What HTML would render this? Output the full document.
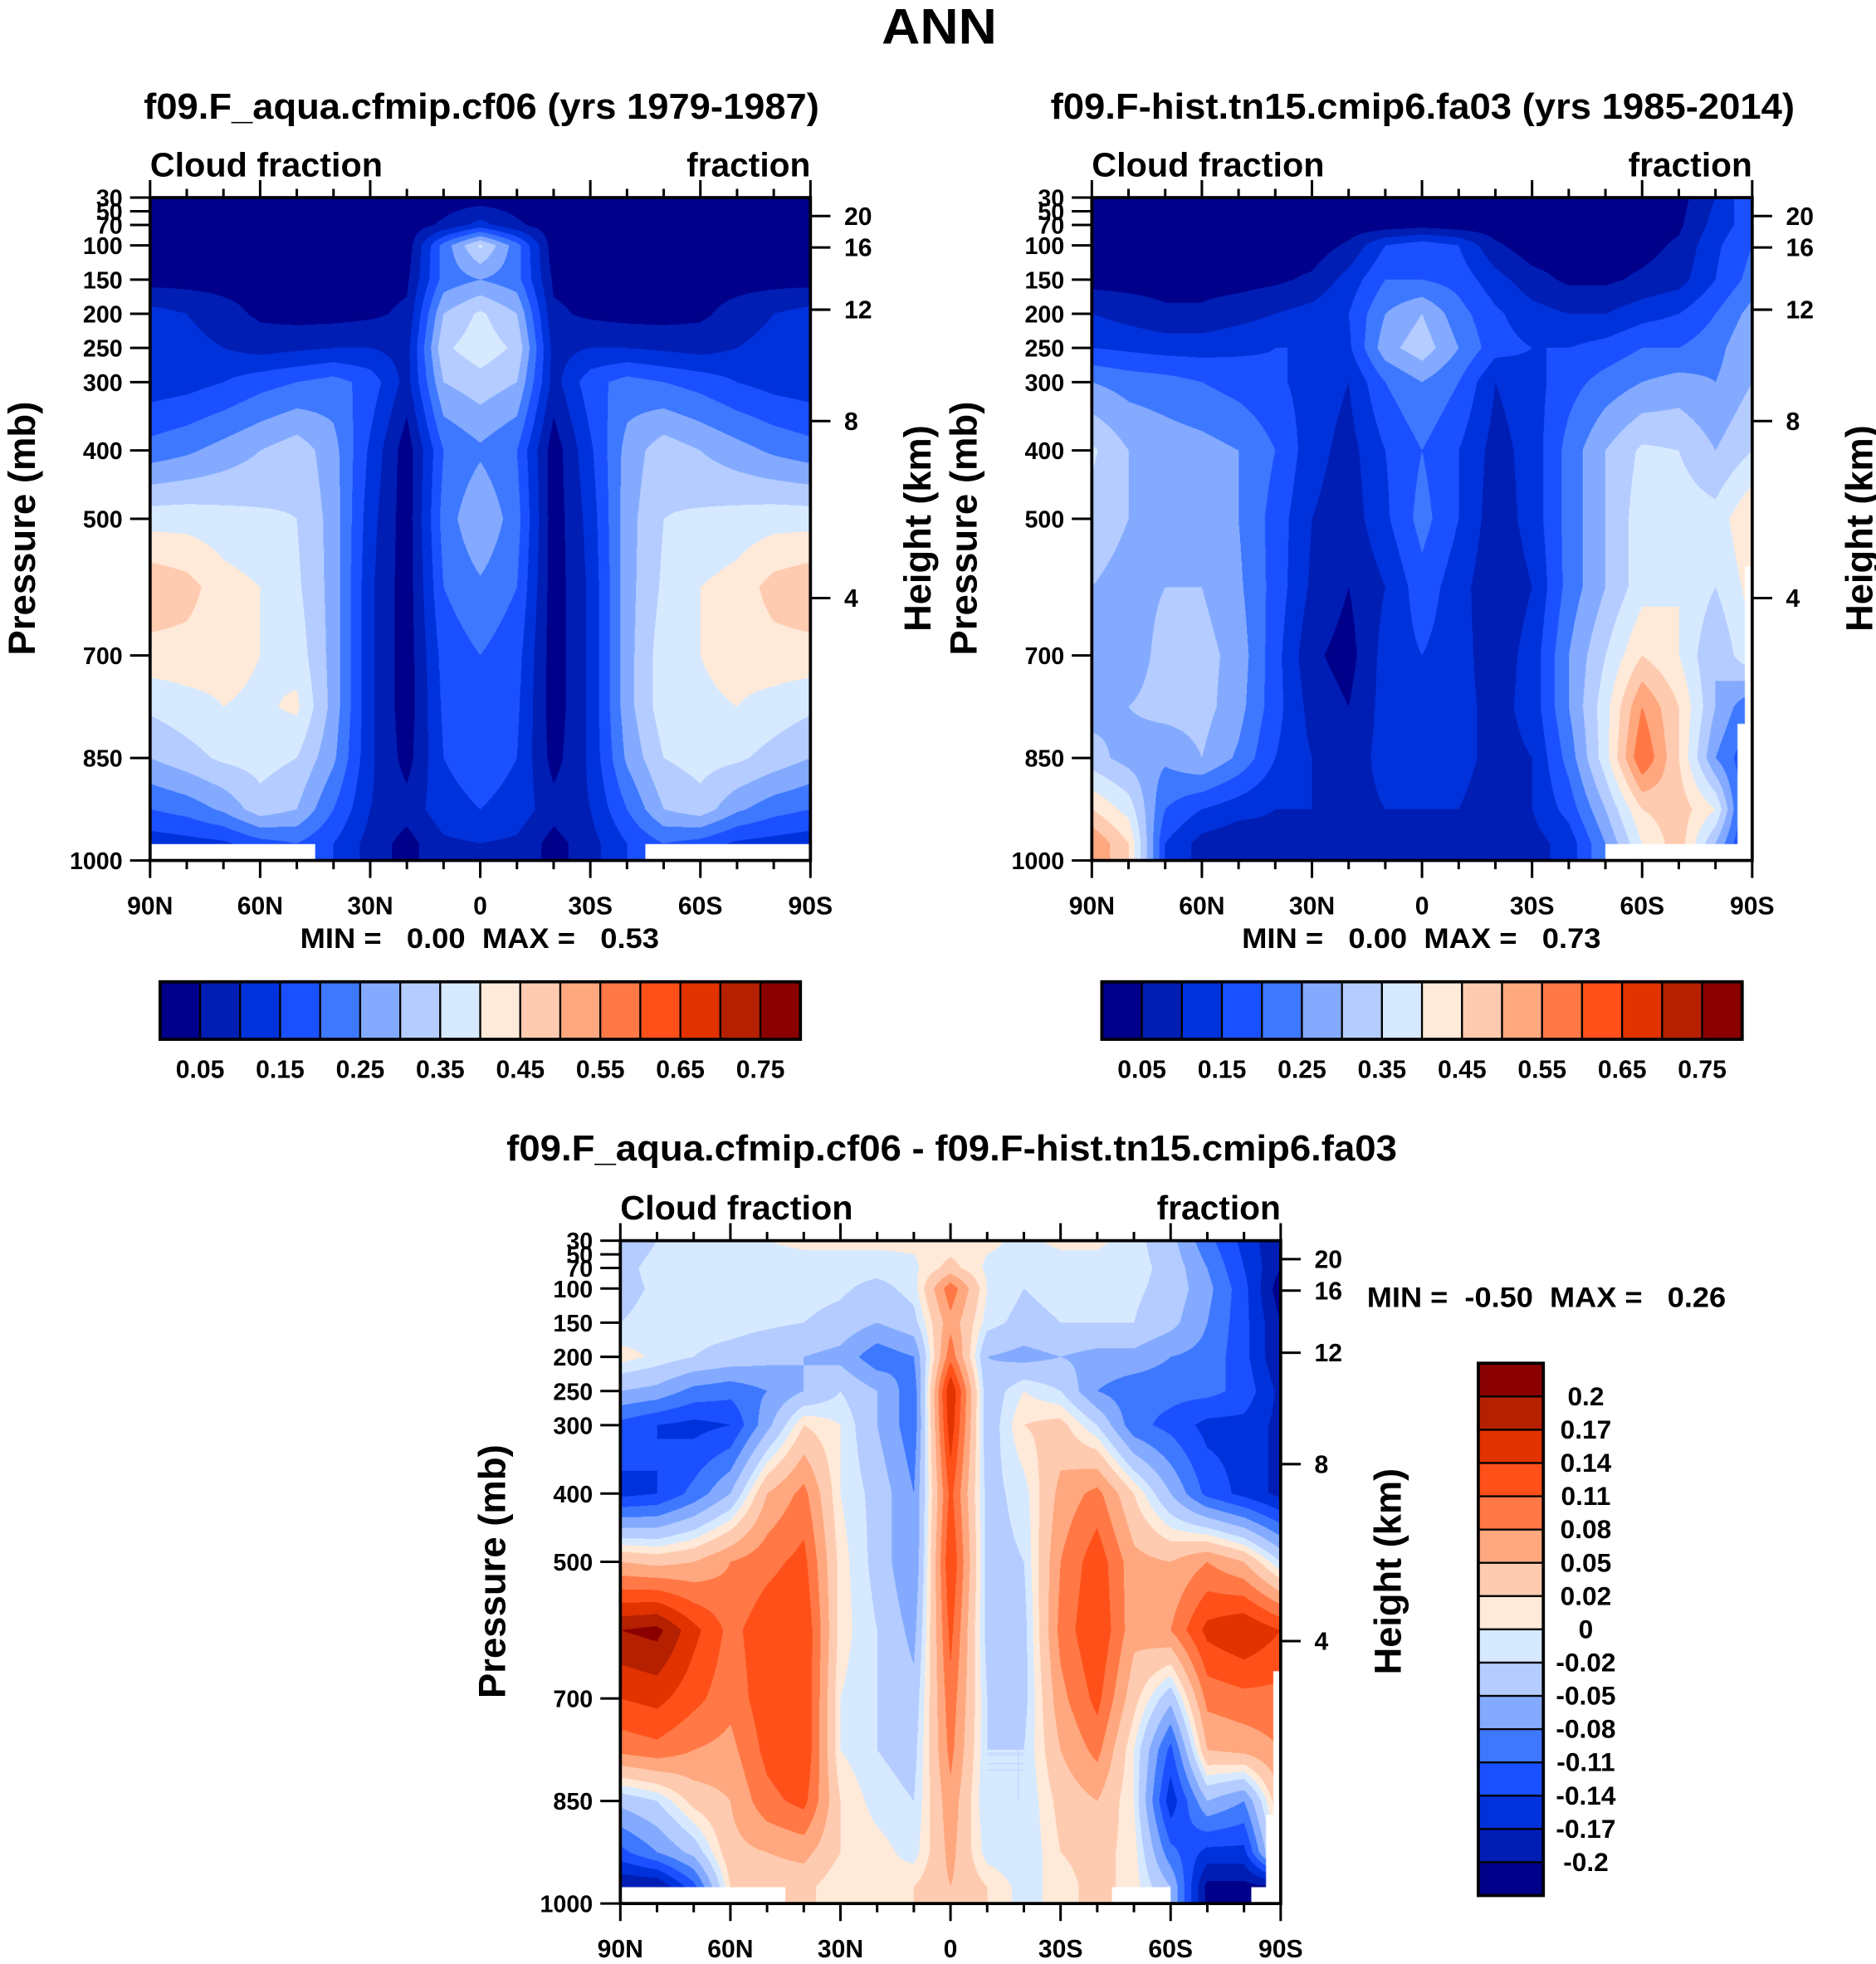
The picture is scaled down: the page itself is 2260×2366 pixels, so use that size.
<!DOCTYPE html>
<html><head><meta charset="utf-8">
<style>
html,body{margin:0;padding:0;background:#fff;}
#page{position:absolute;left:0;top:0;width:1500px;height:1570px;transform:scale(1.506667);transform-origin:0 0;font-family:"Liberation Sans",Arial,sans-serif;}
canvas{position:absolute;}
svg{position:absolute;left:0;top:0;}
text{font-family:"Liberation Sans",Arial,sans-serif;font-weight:bold;fill:#000;}
</style></head>
<body>
<div id="page">
<canvas id="c1" style="left:120px;top:158px;width:528px;height:530px" width="1056" height="1060"></canvas>
<canvas id="c2" style="left:873px;top:158px;width:528px;height:530px" width="1056" height="1060"></canvas>
<canvas id="c3" style="left:496px;top:992px;width:528px;height:530px" width="1056" height="1060"></canvas>
<svg id="ov" width="1500" height="1570" viewBox="0 0 1500 1570">
<text x="705" y="35" font-size="40" textLength="92" lengthAdjust="spacingAndGlyphs">ANN</text>
<text x="115" y="95" font-size="29" textLength="540" lengthAdjust="spacingAndGlyphs">f09.F_aqua.cfmip.cf06 (yrs 1979-1987)</text>
<text x="840" y="95" font-size="29" textLength="595" lengthAdjust="spacingAndGlyphs">f09.F-hist.tn15.cmip6.fa03 (yrs 1985-2014)</text>
<text x="405" y="928" font-size="29" textLength="712" lengthAdjust="spacingAndGlyphs">f09.F_aqua.cfmip.cf06 - f09.F-hist.tn15.cmip6.fa03</text>
<text x="240" y="758" font-size="23" textLength="287" lengthAdjust="spacingAndGlyphs" xml:space="preserve">MIN =   0.00  MAX =   0.53</text>
<text x="993" y="758" font-size="23" textLength="287" lengthAdjust="spacingAndGlyphs" xml:space="preserve">MIN =   0.00  MAX =   0.73</text>
<text x="1093" y="1045" font-size="23" textLength="287" lengthAdjust="spacingAndGlyphs" xml:space="preserve">MIN =  -0.50  MAX =   0.26</text>
</svg>
</div>
<script>
const lats=[90,80,70,60,50,40,30,20,10,0,-10,-20,-30,-40,-50,-60,-70,-80,-90];
const pLev=[30,70,100,150,200,250,300,400,500,600,700,775,850,925,975];
const colors=["#00008a","#001eb4","#0032dc","#1a50ff","#3e78ff","#83aaff","#b4ccff","#d6e9ff","#ffead9","#ffcbb0","#ffa77e","#ff7845","#ff5019","#e13200","#b52000","#8a0000"];
const levels1=[0.05,0.1,0.15,0.2,0.25,0.3,0.35,0.4,0.45,0.5,0.55,0.6,0.65,0.7,0.75];
const levelLabels1=["0.05","0.15","0.25","0.35","0.45","0.55","0.65","0.75"];
const levels3=[-0.2,-0.17,-0.14,-0.11,-0.08,-0.05,-0.02,0,0.02,0.05,0.08,0.11,0.14,0.17,0.2];
const levelLabels3=["-0.2","-0.17","-0.14","-0.11","-0.08","-0.05","-0.02","0","0.02","0.05","0.08","0.11","0.14","0.17","0.2"];
const pTicks=[30,50,70,100,150,200,250,300,400,500,700,850,1000];
const hTicks=[20,16,12,8,4];
const hTickP=[57,103,194,357,616];
const latTicks=[90,60,30,0,-30,-60,-90];
const latLabels=["90N","60N","30N","0","30S","60S","90S"];

const field1=[
[.02,.02,.02,.02,.02,.02,.02,.02,.02,.02,.02,.02,.02,.02,.02,.02,.02,.02,.02],
[.02,.02,.02,.02,.02,.02,.02,.02,.06,.12,.06,.02,.02,.02,.02,.02,.02,.02,.02],
[.02,.02,.02,.02,.02,.02,.02,.02,.22,.36,.22,.02,.02,.02,.02,.02,.02,.02,.02],
[.03,.03,.03,.03,.03,.03,.03,.04,.22,.25,.22,.04,.03,.03,.03,.03,.03,.03,.03],
[.12,.1,.07,.04,.03,.03,.04,.06,.3,.36,.3,.06,.04,.03,.03,.04,.07,.1,.12],
[.15,.12,.1,.08,.09,.1,.1,.08,.34,.38,.34,.08,.1,.1,.09,.08,.1,.12,.15],
[.12,.13,.15,.18,.2,.22,.18,.08,.3,.33,.3,.08,.18,.22,.2,.18,.15,.13,.12],
[.22,.24,.27,.3,.33,.27,.14,.02,.2,.24,.2,.02,.14,.27,.33,.3,.27,.24,.22],
[.38,.38,.37,.36,.35,.28,.12,.02,.22,.3,.22,.02,.12,.28,.35,.36,.37,.38,.38],
[.49,.47,.42,.4,.36,.28,.11,.02,.2,.24,.2,.02,.11,.28,.36,.4,.42,.47,.49],
[.43,.43,.42,.4,.38,.28,.11,.02,.17,.2,.17,.02,.11,.28,.38,.4,.42,.43,.43],
[.36,.38,.4,.39,.41,.28,.11,.02,.16,.19,.16,.02,.11,.28,.38,.39,.4,.38,.36],
[.3,.33,.36,.37,.35,.26,.11,.03,.15,.18,.15,.03,.11,.26,.35,.37,.36,.33,.3],
[.2,.22,.26,.33,.3,.2,.1,.07,.13,.15,.13,.07,.1,.2,.3,.33,.26,.22,.2],
[.12,.13,.14,.18,.2,.15,.08,.03,.09,.1,.09,.03,.08,.15,.2,.18,.14,.13,.12]];

const field2=[
[.02,.02,.02,.02,.02,.02,.02,.02,.02,.02,.02,.02,.02,.02,.02,.02,.03,.1,.2],
[.02,.02,.02,.02,.02,.02,.02,.02,.02,.03,.02,.02,.02,.02,.02,.02,.04,.12,.18],
[.02,.02,.02,.02,.02,.02,.02,.06,.15,.18,.15,.06,.02,.02,.02,.03,.06,.14,.2],
[.03,.03,.03,.03,.03,.04,.06,.12,.2,.2,.18,.12,.07,.04,.04,.06,.08,.15,.22],
[.1,.08,.06,.06,.08,.1,.12,.15,.25,.3,.22,.16,.12,.1,.1,.13,.15,.2,.27],
[.15,.14,.13,.13,.14,.15,.15,.14,.28,.33,.25,.17,.15,.15,.17,.2,.2,.23,.3],
[.25,.23,.22,.2,.18,.16,.13,.1,.2,.25,.2,.1,.13,.18,.22,.25,.27,.25,.3],
[.36,.3,.28,.27,.25,.2,.12,.08,.15,.2,.15,.08,.12,.22,.3,.36,.35,.3,.35],
[.33,.3,.3,.28,.25,.18,.1,.07,.14,.22,.15,.07,.12,.22,.3,.38,.38,.37,.45],
[.3,.28,.3,.3,.26,.18,.09,.05,.1,.18,.12,.06,.1,.22,.3,.38,.4,.35,.42],
[.25,.27,.32,.32,.28,.17,.06,.03,.12,.15,.12,.07,.12,.25,.35,.45,.4,.3,.4],
[.28,.3,.32,.32,.27,.17,.08,.05,.12,.15,.12,.08,.12,.25,.38,.55,.45,.3,.2],
[.32,.28,.26,.3,.24,.15,.1,.07,.12,.13,.12,.08,.1,.22,.38,.6,.45,.25,.15],
[.45,.38,.2,.15,.12,.1,.1,.08,.1,.1,.1,.07,.1,.17,.3,.45,.48,.4,.1],
[.55,.45,.15,.08,.06,.08,.08,.08,.08,.08,.08,.07,.08,.12,.25,.4,.48,.3,.1]];

const field3=[
[-.04,-.02,-.01,-.01,0,.005,.005,.005,.005,.005,.005,-.005,.005,.005,-.01,-.04,-.1,-.15,-.2],
[-.03,-.01,-.01,-.01,-.01,-.01,-.01,-.01,-.005,.03,-.005,-.01,-.01,-.01,-.01,-.03,-.08,-.14,-.2],
[-.03,-.015,-.01,-.01,-.01,-.01,-.015,-.03,-.01,.1,0,-.02,-.01,-.01,-.015,-.03,-.07,-.13,-.22],
[-.02,-.01,-.01,-.01,-.015,-.02,-.03,-.05,-.03,.07,-.01,-.03,-.02,-.02,-.02,-.04,-.08,-.13,-.2],
[.01,-.005,-.02,-.03,-.04,-.05,-.06,-.1,-.08,.1,-.05,-.06,-.05,-.06,-.06,-.08,-.09,-.13,-.2],
[-.05,-.06,-.09,-.1,-.08,-.05,-.02,-.05,-.1,.17,-.04,0,-.02,-.08,-.1,-.1,-.1,-.12,-.18],
[-.12,-.14,-.15,-.14,-.06,.02,0,-.05,-.1,.16,-.04,.02,.03,-.02,-.1,-.12,-.15,-.15,-.18],
[-.15,-.14,-.1,-.05,.05,.09,0,-.03,-.08,.12,-.03,-.01,.06,.09,.02,-.05,-.12,-.15,-.18],
[.05,.04,.05,.08,.1,.12,.01,-.03,-.08,.14,-.03,-.02,.08,.13,.06,.05,.08,.05,-.02],
[.2,.21,.15,.1,.13,.14,.01,-.02,-.06,.12,-.03,-.03,.09,.14,.06,.08,.15,.17,.14],
[.14,.15,.12,.09,.13,.14,0,-.02,-.04,.1,-.02,-.03,.07,.12,.03,-.04,.09,.1,.1],
[.09,.1,.08,.07,.12,.14,0,-.02,-.03,.09,-.02,-.02,.05,.09,0,-.12,.05,.06,.08],
[-.04,-.02,.03,.05,.1,.12,.02,-.01,-.02,.07,-.02,-.02,.03,.05,0,-.16,-.05,-.08,.05],
[-.12,-.08,-.04,.04,.05,.06,.02,.01,-.01,.06,-.01,-.02,.02,.03,.01,-.1,-.15,-.15,.02],
[-.2,-.2,-.12,.02,.03,.03,0,0,.02,.05,.02,-.01,.01,.03,.01,-.05,-.21,-.21,-.2]];

const NS="http://www.w3.org/2000/svg";
const ov=document.getElementById('ov');
function mk(tag,attrs,parent){const e=document.createElementNS(NS,tag);for(const k in attrs)e.setAttribute(k,attrs[k]);(parent||ov).appendChild(e);return e;}

function sample(field,lat,p){
  let fi=(90-lat)/10; fi=Math.max(0,Math.min(18,fi));
  let i0=Math.min(17,Math.floor(fi)), tx=fi-i0;
  let j0,ty;
  if(p<=pLev[0]){j0=0;ty=0;} else if(p>=pLev[pLev.length-1]){j0=pLev.length-2;ty=1;}
  else{for(j0=0;j0<pLev.length-1;j0++){if(p<=pLev[j0+1])break;} ty=(p-pLev[j0])/(pLev[j0+1]-pLev[j0]);}
  const a=field[j0][i0],b=field[j0][i0+1],c=field[j0+1][i0],d=field[j0+1][i0+1];
  return (a*(1-tx)+b*tx)*(1-ty)+(c*(1-tx)+d*tx)*ty;
}
function colorFor(v,levels){let k=0;while(k<levels.length&&v>=levels[k])k++;return colors[k];}
function hexRgb(h){return [parseInt(h.slice(1,3),16),parseInt(h.slice(3,5),16),parseInt(h.slice(5,7),16)];}
function drawField(id,field,levels,masks){
  const cv=document.getElementById(id),ctx=cv.getContext('2d');
  const W=cv.width,H=cv.height,img=ctx.createImageData(W,H);
  for(let y=0;y<H;y++){const p=30+(y+0.5)/H*970;
    for(let x=0;x<W;x++){const lat=90-(x+0.5)/W*180;
      const rgb=hexRgb(colorFor(sample(field,lat,p),levels));
      const o=(y*W+x)*4;img.data[o]=rgb[0];img.data[o+1]=rgb[1];img.data[o+2]=rgb[2];img.data[o+3]=255;}}
  ctx.putImageData(img,0,0);
  ctx.fillStyle='#fff';
  masks.forEach(m=>{const x0=(90-m[0])/180*W,x1=(90-m[1])/180*W,y0=(m[2]-30)/970*H;ctx.fillRect(x0,y0,x1-x0,H-y0);});
}
drawField('c1',field1,levels1,[[90,45,976],[-45,-90,976]]);
drawField('c2',field2,levels1,[[-50,-90,976],[-86,-90,800],[-88,-90,570]]);
drawField('c3',field3,levels3,[[90,45,976],[-44,-60,976],[-82,-90,976],[-86,-90,870],[-88,-90,660]]);

function axes(L,T,W,H,name){
  const g=mk('g',{});
  
  
  const fr=mk('rect',{x:L,y:T,width:W,height:H,fill:'none',stroke:'#000','stroke-width':2.5},g);
  
  
  const px=lat=>L+(90-lat)/180*W, py=p=>T+(p-30)/970*H;
  for(let lat=90;lat>=-90;lat-=10){
    const maj=lat%30===0,len=maj?14:7;
    mk('line',{x1:px(lat),x2:px(lat),y1:T,y2:T-len,stroke:'#000','stroke-width':2},g);
    mk('line',{x1:px(lat),x2:px(lat),y1:T+H,y2:T+H+len,stroke:'#000','stroke-width':2},g);
  }
  latTicks.forEach((lat,i)=>{const t=mk('text',{x:px(lat),y:T+H+43,'font-size':20,'text-anchor':'middle'},g);t.textContent=latLabels[i];
    
    });
  pTicks.forEach(p=>{mk('line',{x1:L,x2:L-16,y1:py(p),y2:py(p),stroke:'#000','stroke-width':2},g);
    const t=mk('text',{x:L-22,y:py(p)+7,'font-size':19,'text-anchor':'end'},g);t.textContent=p;
    
    });
  hTicks.forEach((h,i)=>{const y=py(hTickP[i]);mk('line',{x1:L+W,x2:L+W+16,y1:y,y2:y,stroke:'#000','stroke-width':2},g);
    const t=mk('text',{x:L+W+27,y:y+7,'font-size':20},g);t.textContent=h;
    
    });
  const a=mk('text',{x:L,y:T-17,'font-size':27,textLength:186,lengthAdjust:'spacingAndGlyphs'},g);a.textContent='Cloud fraction';
  
  
  const b=mk('text',{x:L+W-99,y:T-17,'font-size':27,textLength:99,lengthAdjust:'spacingAndGlyphs'},g);b.textContent='fraction';
  
  
  const yl=mk('text',{x:-101,y:0,'font-size':30,textLength:203,lengthAdjust:'spacingAndGlyphs',transform:`translate(${L-92},${T+H/2}) rotate(-90)`},g);yl.textContent='Pressure (mb)';
  
  
  const yr=mk('text',{x:-82,y:0,'font-size':30,textLength:165,lengthAdjust:'spacingAndGlyphs',transform:`translate(${L+W+96},${T+H/2}) rotate(-90)`},g);yr.textContent='Height (km)';
  
  
}
axes(120,158,528,530,'panel1');
axes(873,158,528,530,'panel2');
axes(496,992,528,530,'diff');

function hbar(L,T,name){
  const bw=32,bh=46;
  colors.forEach((c,i)=>{const r=mk('rect',{x:L+i*bw,y:T,width:bw,height:bh,fill:c,stroke:'#000','stroke-width':1.5});
    
    });
  mk('rect',{x:L,y:T,width:bw*16,height:bh,fill:'none',stroke:'#000','stroke-width':2.5});
  levelLabels1.forEach((s,i)=>{const t=mk('text',{x:L+bw*(1+2*i),y:T+77,'font-size':20,'text-anchor':'middle'});t.textContent=s;
    
    });
}
hbar(128,785,'panel1-colorbar');
hbar(881,785,'panel2-colorbar');
(function(){
  const L=1182,T=1090,bw=52,bh=26.6;
  colors.slice().reverse().forEach((c,i)=>{const r=mk('rect',{x:L,y:T+i*bh,width:bw,height:bh,fill:c,stroke:'#000','stroke-width':1.5});
    
    });
  mk('rect',{x:L,y:T,width:bw,height:bh*16,fill:'none',stroke:'#000','stroke-width':2.5});
  levelLabels3.slice().reverse().forEach((s,i)=>{const t=mk('text',{x:L+86,y:T+bh*(i+1)+7,'font-size':21,'text-anchor':'middle'});t.textContent=s;
    
    });
})();
</script>
</body></html>
